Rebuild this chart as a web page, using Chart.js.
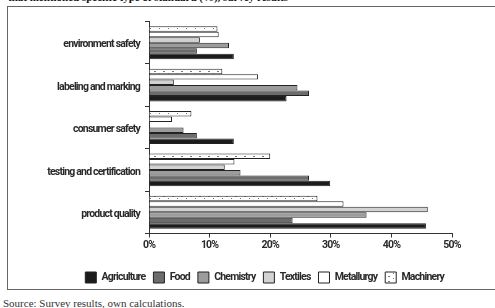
<!DOCTYPE html>
<html>
<head>
<meta charset="utf-8">
<script src="https://cdn.jsdelivr.net/npm/chart.js@4/dist/chart.umd.min.js"></script>
<style>
  html, body { margin: 0; padding: 0; background: #fff; }
  body { width: 495px; height: 308px; overflow: hidden; position: relative; }
  #title { position: absolute; left: 8px; top: -8px; font: bold 11px "Liberation Serif", serif; line-height: 11px; color: #111; white-space: nowrap; }
  #frame { position: absolute; left: 7px; top: 6px; width: 600px; height: 282px; border: 1px solid #666; }
  #wrap { position: absolute; left: 0; top: 0; width: 544px; height: 293px; }
  #source { position: absolute; left: 3px; top: 297px; font: 11px "Liberation Serif", serif; color: #333; white-space: nowrap; }
</style>
</head>
<body>
<div id="title">that mentioned specific type of standard (%), survey results</div>
<div id="frame"></div>
<div id="wrap"><canvas id="grafico"></canvas></div>
<div id="source">Source: Survey results, own calculations.</div>
<script>
// categorias (de arriba hacia abajo)
var categorias = ['environment safety', 'labeling and marking', 'consumer safety', 'testing and certification', 'product quality'];

// valores en % por sector
var agriculture = [14.0, 22.7, 14.0, 29.9, 45.7];
var food        = [7.9, 26.4, 7.9, 26.4, 23.7];
var chemistry   = [13.2, 24.5, 5.7, 15.1, 35.9];
var textiles    = [8.4, 4.1, 0, 12.5, 46.0];
var metallurgy  = [11.5, 18.0, 3.8, 14.1, 32.1];
var machinery   = [11.3, 12.1, 7.0, 20.0, 27.8];

var ticksX = [0, 10, 20, 30, 40, 50];

// trama punteada para Machinery
function trama() {
  var c = document.createElement('canvas');
  c.width = 9; c.height = 5;
  var g = c.getContext('2d');
  g.fillStyle = '#fff';
  g.fillRect(0, 0, 9, 5);
  g.fillStyle = '#777';
  g.fillRect(1, 1, 2, 1);
  g.fillRect(6, 3, 1, 1);
  return g.createPattern(c, 'repeat');
}

var fuente = { family: 'Roboto, sans-serif', size: 10.5, weight: 'bold' };
var borde = '#222';

// letra mas apretada (la original es condensada)
var apretar = {
  id: 'apretar',
  beforeUpdate: function (c) { c.ctx.letterSpacing = '-0.8px'; },
  beforeDraw: function (c) { c.ctx.letterSpacing = '-0.8px'; }
};

var lienzo = document.getElementById('grafico').getContext('2d');

var datos = {
  labels: categorias,
  datasets: [
    { label: 'Machinery', data: machinery, backgroundColor: trama(), borderColor: borde, borderWidth: 1 },
    { label: 'Metallurgy', data: metallurgy, backgroundColor: '#ffffff', borderColor: borde, borderWidth: 1 },
    { label: 'Textiles', data: textiles, backgroundColor: '#d2d2d2', borderColor: borde, borderWidth: 1 },
    { label: 'Chemistry', data: chemistry, backgroundColor: '#9c9c9c', borderColor: borde, borderWidth: 1 },
    { label: 'Food', data: food, backgroundColor: '#6c6c6c', borderColor: borde, borderWidth: 1 },
    { label: 'Agriculture', data: agriculture, backgroundColor: '#1c1c1c', borderColor: borde, borderWidth: 1 }
  ]
};

var opciones = {
  indexAxis: 'y',
  responsive: true,
  maintainAspectRatio: false,
  animation: false,
  layout: { padding: { left: 0, right: 92, top: 21.5, bottom: 0 } },
  datasets: { bar: { categoryPercentage: 0.775, barPercentage: 1 } },
  scales: {
    x: {
      min: 0, max: 50,
      afterBuildTicks: function (s) { s.ticks = ticksX.map(function (v) { return { value: v }; }); },
      afterFit: function (s) { s.height = 30.5; },
      grid: { drawOnChartArea: false, drawTicks: true, tickLength: 4, color: '#333' },
      border: { display: true, color: '#333', width: 1 },
      ticks: { padding: 2, color: '#2a2a2a', font: fuente,
        callback: function (v) { return v + '%'; } }
    },
    y: {
      afterFit: function (s) { s.width = 149; },
      grid: { drawOnChartArea: false, drawTicks: true, tickLength: 4, color: '#333', offset: true },
      border: { display: true, color: '#333', width: 1 },
      ticks: { padding: 5, labelOffset: 2, color: '#2a2a2a', font: fuente }
    }
  },
  plugins: {
    tooltip: { enabled: false },
    legend: {
      position: 'bottom',
      align: 'end',
      reverse: true,
      labels: { boxWidth: 11, boxHeight: 11, padding: 8, color: '#2a2a2a', font: fuente }
    }
  }
};

var grafico = new Chart(lienzo, { type: 'bar', data: datos, options: opciones, plugins: [apretar] });
</script>
</body>
</html>
